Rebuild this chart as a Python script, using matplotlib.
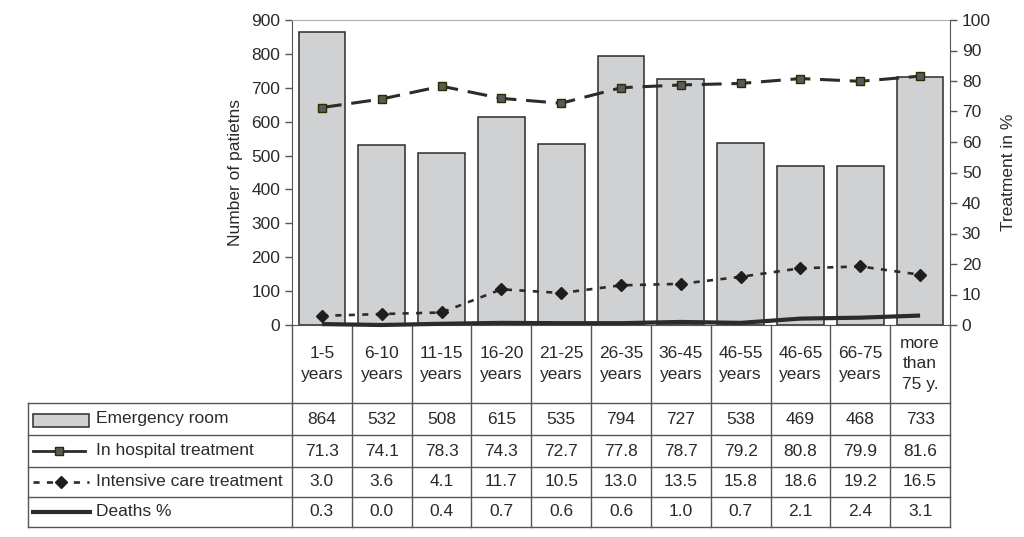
import numpy as np
import matplotlib.pyplot as plt
from matplotlib.lines import Line2D
from matplotlib.patches import Rectangle

plt.rcParams['font.family'] = ['Liberation Sans', 'DejaVu Sans']

age_groups = ['1-5\nyears', '6-10\nyears', '11-15\nyears', '16-20\nyears', '21-25\nyears',
              '26-35\nyears', '36-45\nyears', '46-55\nyears', '46-65\nyears', '66-75\nyears',
              'more\nthan\n75 y.']
emergency_room = [864, 532, 508, 615, 535, 794, 727, 538, 469, 468, 733]
in_hospital = [71.3, 74.1, 78.3, 74.3, 72.7, 77.8, 78.7, 79.2, 80.8, 79.9, 81.6]
intensive_care = [3.0, 3.6, 4.1, 11.7, 10.5, 13.0, 13.5, 15.8, 18.6, 19.2, 16.5]
deaths = [0.3, 0.0, 0.4, 0.7, 0.6, 0.6, 1.0, 0.7, 2.1, 2.4, 3.1]
series_names = ['Emergency room', 'In hospital treatment', 'Intensive care treatment', 'Deaths %']

txt = '#2a2a2a'
dark = '#2b2b2b'
fs = 12.5
W, H = 1024, 537
fig = plt.figure(figsize=(W / 100, H / 100), dpi=100)

# overlay axes in pixel coords for the data table
tab = fig.add_axes([0, 0, 1, 1])
tab.set_xlim(0, W)
tab.set_ylim(H, 0)
tab.axis('off')

L, R, T, B = 292, 950, 20, 325
ax = fig.add_axes([L / W, 1 - B / H, (R - L) / W, (B - T) / H])
ax.patch.set_alpha(0)
x = np.arange(len(age_groups))
ax.bar(x, emergency_room, width=0.78, color='#d0d1d3', edgecolor=dark, linewidth=1.1, zorder=2)
ax.set_xlim(-0.5, len(x) - 0.5)
ax.set_ylim(0, 900)
ax.set_yticks(range(0, 901, 100))
ax.set_xticks([])
ax.tick_params(axis='y', direction='out', length=5, width=1, colors='#555555',
               labelcolor=txt, labelsize=fs)
ax.set_ylabel('Number of patietns', fontsize=fs, color=txt, labelpad=6)
ax.spines['top'].set_color('#b0b0b0')
ax.spines['left'].set_color('#555555')
ax.spines['bottom'].set_color('#555555')
ax.spines['right'].set_visible(False)

ax2 = ax.twinx()
ax2.set_ylim(0, 100)
ax2.set_yticks(range(0, 101, 10))
ax2.tick_params(axis='y', direction='out', length=5, width=1, colors='#555555',
                labelcolor=txt, labelsize=fs)
ax2.set_ylabel('Treatment in %', fontsize=fs, color=txt, labelpad=7)
for s in ['top', 'left', 'bottom']:
    ax2.spines[s].set_visible(False)
ax2.spines['right'].set_color('#555555')

hosp_style = dict(color=dark, lw=2.2, dashes=(6.5, 3.2))
hosp_marker = dict(marker='s', ms=6, mfc='#5a5a5a', mec='#2b2b00', mew=1)
icu_style = dict(color=dark, lw=1.9, dashes=(2.3, 2.8))
icu_marker = dict(marker='D', ms=6.5, mfc='#1e1e1e', mec='#1e1e1e')
death_style = dict(color=dark, lw=3, solid_capstyle='butt')

ax2.plot(x, in_hospital, **hosp_style, **hosp_marker, clip_on=False)
ax2.plot(x, intensive_care, **icu_style, **icu_marker, clip_on=False)
ax2.plot(x, deaths, **death_style, clip_on=False)

# table geometry from the main axes' x scale
fig.canvas.draw()
edges = [ax.transData.transform((i - 0.5, 0))[0] for i in range(len(x) + 1)]
centers = [ax.transData.transform((i, 0))[0] for i in x]
row_lines = [403, 435, 467, 497, 527]
header_top = B
legend_left = 28
lc = '#555555'

for e in edges:
    tab.add_line(Line2D([e, e], [header_top, row_lines[-1]], color=lc, lw=1))
tab.add_line(Line2D([legend_left, legend_left], [row_lines[0], row_lines[-1]], color=lc, lw=1))
for yl in row_lines:
    tab.add_line(Line2D([legend_left, edges[-1]], [yl, yl], color=lc, lw=1))

for cx, lab in zip(centers, age_groups):
    tab.text(cx, 364, lab, ha='center', va='center', fontsize=fs, color=txt,
             linespacing=1.45, multialignment='center')

rows = [emergency_room, in_hospital, intensive_care, deaths]
fmts = ['{:d}', '{:.1f}', '{:.1f}', '{:.1f}']
for r, (vals, fmt) in enumerate(zip(rows, fmts)):
    yc = (row_lines[r] + row_lines[r + 1]) / 2
    for cx, v in zip(centers, vals):
        tab.text(cx, yc, fmt.format(v), ha='center', va='center', fontsize=fs, color=txt)
    tab.text(96, yc, series_names[r], ha='left', va='center', fontsize=fs, color=txt)

# legend keys inside the table
y1, y2, y3, y4 = [(row_lines[i] + row_lines[i + 1]) / 2 for i in range(4)]
tab.add_patch(Rectangle((33, 414), 56, 13, facecolor='#d0d1d3', edgecolor=dark, lw=1.1))
tab.add_line(Line2D([33, 85], [y2, y2], color=dark, lw=2))
tab.add_line(Line2D([59], [y2], ls='none', **hosp_marker))
tab.add_line(Line2D([33, 89], [y3, y3], **icu_style))
tab.add_line(Line2D([61], [y3], ls='none', **icu_marker))
tab.add_line(Line2D([31, 92], [y4, y4], **death_style))

fig.savefig('out.png', dpi=100)
